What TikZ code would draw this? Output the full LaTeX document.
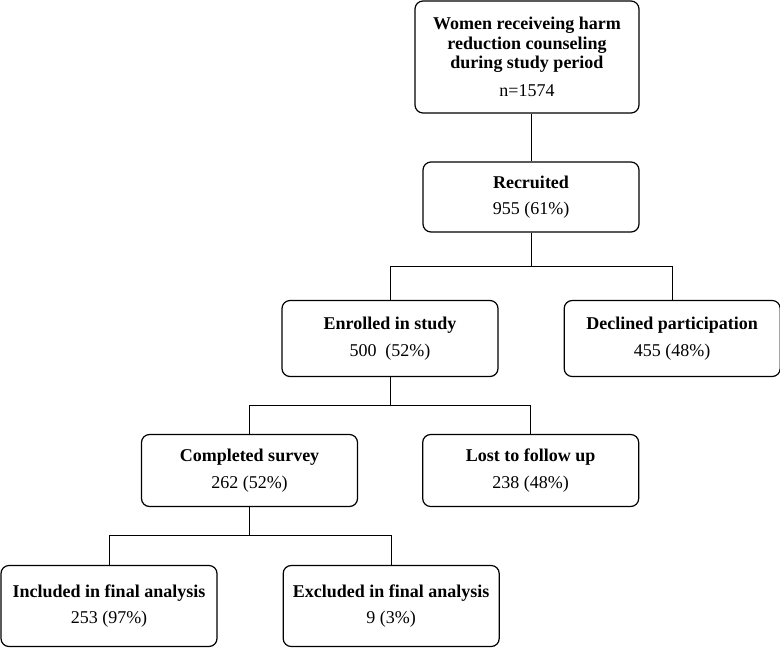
\documentclass[tikz,border=0pt]{standalone}
\usepackage{fontspec}
\setmainfont{Liberation Serif}
\usetikzlibrary{positioning}

\begin{document}
\begin{tikzpicture}[
      x=1pt,y=-1pt,
      node distance=65pt,
      box/.style={rectangle,draw=black,fill=white,rounded corners=8pt,
                  line width=1.2pt,minimum width=216pt,minimum height=76pt,
                  inner sep=2pt,font=\fontsize{18}{19.5}\selectfont,align=center},
      link/.style={line width=1pt,color=black}
    ]
      \useasboundingbox (0,0) rectangle (780,649);

      \node[box,minimum width=224pt,minimum height=112pt] (women) at (527,57)
        {\textbf{Women receiveing harm}\\\textbf{reduction counseling}\\\textbf{during study period}\\[8pt]n=1574};
      \node[box,minimum height=70pt] (recruit) at (531,197) {\textbf{Recruited}\\[7pt]955 (61\%)};
      \node[box] (enrol) at (390,338.5) {\textbf{Enrolled in study}\\[7pt]500\ \ (52\%)};
      \node[box,right=of enrol] (decline) {\textbf{Declined participation}\\[7pt]455 (48\%)};
      \node[box,minimum height=72pt] (survey) at (249.5,470.5) {\textbf{Completed survey}\\[7pt]262 (52\%)};
      \node[box,minimum height=72pt,right=64pt of survey] (lost) {\textbf{Lost to follow up}\\[7pt]238 (48\%)};
      \node[box,minimum height=81pt] (incl) at (109,606) {\textbf{Included in final analysis}\\[7pt]253 (97\%)};
      \node[box,minimum height=81pt,right=of incl] (excl) {\textbf{Excluded in final analysis}\\[7pt]9 (3\%)};

      % tree connectors
      \draw[link] (recruit.north |- women.south) -- (recruit.north);
      \draw[link] (recruit.south) -- ++(0,34) coordinate (split1);
      \draw[link] (enrol.north) |- (split1) -| (decline.north);
      \draw[link] (enrol.south) -- ++(0,28.5) coordinate (split2);
      \draw[link] (survey.north) |- (split2) -| (lost.north);
      \draw[link] (survey.south) -- ++(0,28) coordinate (split3);
      \draw[link] (incl.north) |- (split3) -| (excl.north);
    \end{tikzpicture}
\end{document}
